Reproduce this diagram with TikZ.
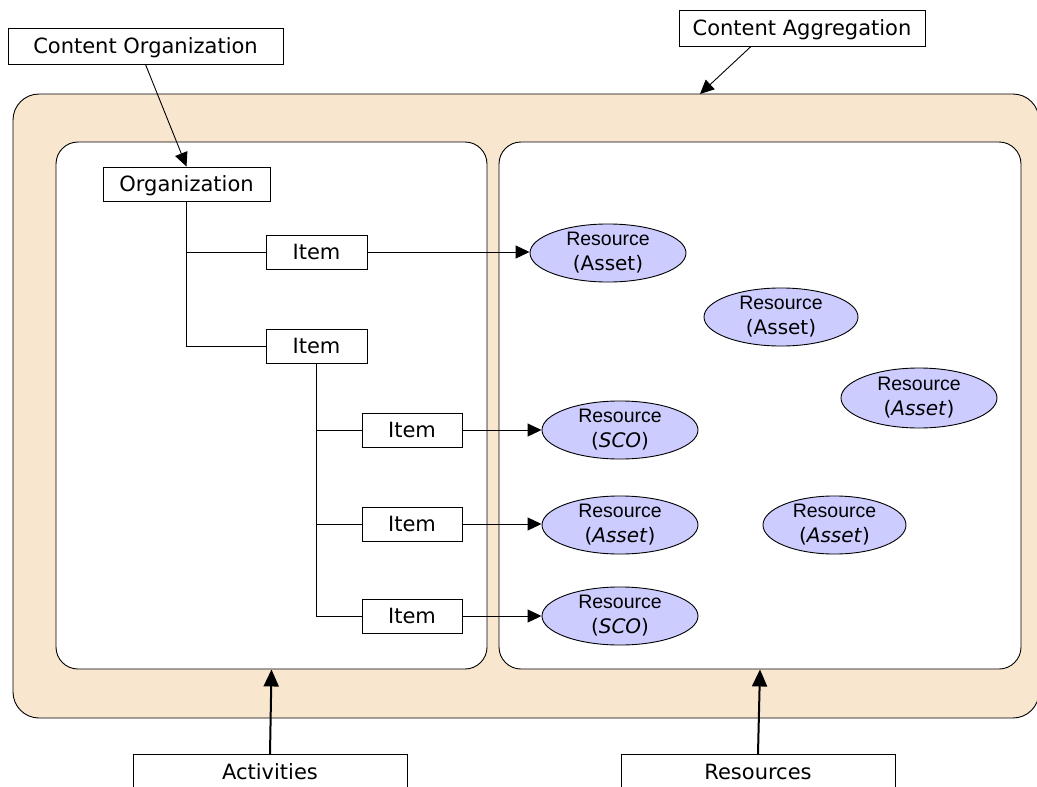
\documentclass[tikz,border=0pt]{standalone}
\usepackage{fontspec}
\setmainfont{DejaVu Sans}
\newfontfamily\resfont{Liberation Sans}
\usetikzlibrary{shapes.geometric,arrows.meta}
\definecolor{aggfill}{RGB}{248,231,206}
\definecolor{resfill}{RGB}{204,204,255}
\begin{document}
\begin{tikzpicture}[x=1pt,y=-1pt,
  box/.style={draw=black,line width=0.9pt,fill=white,inner sep=0pt,text height=15.5pt,text depth=0pt,font=\fontsize{21}{25}\selectfont},
  panel/.style={draw=black,line width=0.9pt,fill=white,rounded corners=22pt,inner sep=0pt},
  res/.style={ellipse,draw=black,line width=0.9pt,fill=resfill,inner sep=0pt,align=center,
    minimum width=156pt,minimum height=56pt,font=\fontsize{20}{25}\selectfont},
  tree/.style={line width=0.9pt},
  thinarrow/.style={line width=0.9pt,-{Triangle[length=14pt,width=13pt]}},
  bigarrow/.style={line width=2pt,-{Triangle[length=17pt,width=15pt]}}]
\useasboundingbox (0,0) rectangle (1037,787);
\clip (0,0) rectangle (1037,787);
% outer aggregation
\node[draw=black,line width=0.9pt,fill=aggfill,rounded corners=26pt,inner sep=0pt,
  minimum width=1026pt,minimum height=624pt] (outer) at (526,406) {};
\node[panel,minimum width=431pt,minimum height=527pt] (left) at (271.5,405.5) {};
\node[panel,minimum width=522pt,minimum height=527pt] (right) at (760,405.5) {};
% labels
\node[box,minimum width=275pt,minimum height=36pt] (co) at (145.5,46) {Content Organization};
\node[box,minimum width=246pt,minimum height=36pt] (ca) at (802,28) {Content Aggregation};
\coordinate (aggtip) at (700,94);
% organization tree
\node[box,minimum width=167pt,minimum height=34pt] (org) at (186.5,184) {Organization};
\node[box,minimum width=101pt,minimum height=34pt] (i1) at (316.5,252) {Item};
\node[box,minimum width=101pt,minimum height=34pt] (i2) at (316.5,346) {Item};
\node[box,minimum width=100pt,minimum height=34pt] (i3) at (412,430) {Item};
\node[box,minimum width=100pt,minimum height=34pt] (i4) at (412,524) {Item};
\node[box,minimum width=100pt,minimum height=34pt] (i5) at (412,616) {Item};
% resources
\node[res] (r1) at (608,253) {{\resfont\fontsize{19.5}{25}\selectfont Resource}\\(Asset)};
\node[res,minimum width=154pt,minimum height=58pt] (r2) at (781,317) {{\resfont\fontsize{19.5}{25}\selectfont Resource}\\(Asset)};
\node[res,minimum height=60pt] (r3) at (919,398) {{\resfont\fontsize{19.5}{25}\selectfont Resource}\\(\textit{Asset})};
\node[res] (r4) at (620,430) {{\resfont\fontsize{19.5}{25}\selectfont Resource}\\(\textit{SCO})};
\node[res] (r5) at (620,525) {{\resfont\fontsize{19.5}{25}\selectfont Resource}\\(\textit{Asset})};
\node[res,minimum width=143pt] (r6) at (834.5,525) {{\resfont\fontsize{19.5}{25}\selectfont Resource}\\(\textit{Asset})};
\node[res] (r7) at (620,616) {{\resfont\fontsize{19.5}{25}\selectfont Resource}\\(\textit{SCO})};
% bottom labels
\node[box,anchor=north,minimum width=274pt,inner ysep=10pt,text height=15pt,text depth=30pt] (act) at (270,754) {Activities};
\node[box,anchor=north,minimum width=274pt,inner ysep=10pt,text height=15pt,text depth=30pt] (rsc) at (758,754) {Resources};
% tree lines
\draw[tree] (org.south) -- (org.south |- i2.west) -- (i2.west);
\draw[tree] (org.south |- i1.west) -- (i1.west);
\draw[tree] (i2.south) -- (i2.south |- i5.west) -- (i5.west);
\draw[tree] (i2.south |- i3.west) -- (i3.west);
\draw[tree] (i2.south |- i4.west) -- (i4.west);
% item to resource arrows
\draw[thinarrow] (i1.east) -- (i1.east -| r1.west);
\draw[thinarrow] (i3.east) -- (i3.east -| r4.west);
\draw[thinarrow] (i4.east) -- (i4.east -| r5.west);
\draw[thinarrow] (i5.east) -- (i5.east -| r7.west);
% label arrows
\draw[thinarrow] (co.south) -- (org.north);
\draw[thinarrow] ([xshift=-51pt]ca.south) -- (aggtip);
\draw[bigarrow] (act.north) -- (left.south);
\draw[bigarrow] (rsc.north) -- (right.south);
\end{tikzpicture}
\end{document}
